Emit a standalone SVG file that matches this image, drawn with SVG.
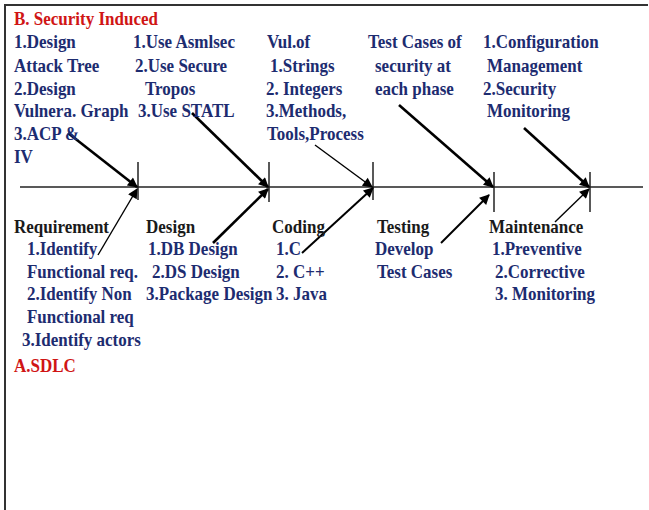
<svg xmlns="http://www.w3.org/2000/svg" width="649" height="510" viewBox="0 0 649 510">
  <style>
    text { font-family: "Liberation Serif", "Times New Roman", serif; font-weight: bold; font-size: 17px;
           transform-box: fill-box; transform-origin: 0 80%; transform: scaleY(1.14); }
    .blue { fill: #1d2c70; }
    .phase { fill: #1a1a1a; }
    .red { fill: #d01515; }
    .frame { stroke: #333; stroke-width: 2; fill: none; }
    .axis { stroke: #222; stroke-width: 1.5; fill: none; }
    .tick { stroke: #222; stroke-width: 1.5; }
    .thick { stroke: #000; stroke-width: 2.6; marker-end: url(#head); }
    .mid { stroke: #000; stroke-width: 2; marker-end: url(#head); }
    .thin { stroke: #000; stroke-width: 1.4; marker-end: url(#head); }
  </style>
  <defs>
    <marker id="head" viewBox="0 0 10 10" refX="9" refY="5" markerWidth="11" markerHeight="10" markerUnits="userSpaceOnUse" orient="auto">
      <path d="M0,0 L10,5 L0,10 Z" fill="#000"/>
    </marker>
  </defs>

  <rect x="0" y="0" width="649" height="510" fill="#fff"/>

  <!-- outer frame: top and left edges -->
  <path class="frame" d="M5,510 V5 H648"/>

  <!-- spine with phase ticks -->
  <g id="spine">
    <line class="axis" x1="20" y1="187" x2="643" y2="187"/>
    <line class="tick" x1="138" y1="162" x2="138" y2="200"/>
    <line class="tick" x1="269" y1="162" x2="269" y2="202"/>
    <line class="tick" x1="373" y1="162" x2="373" y2="200"/>
    <line class="tick" x1="494" y1="172" x2="494" y2="212"/>
    <line class="tick" x1="590" y1="172" x2="590" y2="212"/>
  </g>

  <!-- connectors -->
  <g id="connectors">
    <line class="thick" x1="68" y1="133" x2="137" y2="187"/>
    <line class="thick" x1="192" y1="113" x2="268" y2="187"/>
    <line class="thin" x1="315" y1="145" x2="372" y2="187"/>
    <line class="thick" x1="399" y1="105" x2="493" y2="187"/>
    <line class="thick" x1="524" y1="128" x2="589" y2="187"/>

    <line class="thin" x1="98" y1="255" x2="137" y2="189"/>
    <line class="thick" x1="213" y1="243" x2="268" y2="189"/>
    <line class="mid" x1="302" y1="253" x2="373" y2="188"/>
    <line class="mid" x1="441" y1="243" x2="489" y2="195"/>
    <line class="thin" x1="555" y1="222" x2="589" y2="189"/>
  </g>

  <text class="red" x="14" y="25">B. Security Induced</text>

  <g id="sec-requirement">
    <text class="blue" x="14" y="48">1.Design</text>
    <text class="blue" x="14" y="72">Attack Tree</text>
    <text class="blue" x="14" y="95">2.Design</text>
    <text class="blue" x="14" y="117">Vulnera. Graph</text>
    <text class="blue" x="14" y="140">3.ACP &amp;</text>
    <text class="blue" x="14" y="163">IV</text>
  </g>

  <g id="sec-design">
    <text class="blue" x="133" y="48">1.Use Asmlsec</text>
    <text class="blue" x="135" y="72">2.Use Secure</text>
    <text class="blue" x="145" y="95">Tropos</text>
    <text class="blue" x="138" y="117">3.Use STATL</text>
  </g>

  <g id="sec-coding">
    <text class="blue" x="267" y="48">Vul.of</text>
    <text class="blue" x="270" y="72">1.Strings</text>
    <text class="blue" x="266" y="95">2. Integers</text>
    <text class="blue" x="266" y="117">3.Methods,</text>
    <text class="blue" x="267" y="140">Tools,Process</text>
  </g>

  <g id="sec-testing">
    <text class="blue" x="368" y="48">Test Cases of</text>
    <text class="blue" x="375" y="72">security at</text>
    <text class="blue" x="375" y="95">each phase</text>
  </g>

  <g id="sec-maintenance">
    <text class="blue" x="483" y="48">1.Configuration</text>
    <text class="blue" x="487" y="72">Management</text>
    <text class="blue" x="483" y="95">2.Security</text>
    <text class="blue" x="487" y="117">Monitoring</text>
  </g>

  <g id="sdlc-requirement">
    <text class="phase" x="14" y="233">Requirement</text>
    <text class="blue" x="27" y="255">1.Identify</text>
    <text class="blue" x="27" y="278">Functional req.</text>
    <text class="blue" x="27" y="300">2.Identify Non</text>
    <text class="blue" x="27" y="323">Functional req</text>
    <text class="blue" x="22" y="346">3.Identify actors</text>
  </g>

  <g id="sdlc-design">
    <text class="phase" x="146" y="233">Design</text>
    <text class="blue" x="148" y="255">1.DB Design</text>
    <text class="blue" x="152" y="278">2.DS Design</text>
    <text class="blue" x="146" y="300">3.Package Design</text>
  </g>

  <g id="sdlc-coding">
    <text class="phase" x="272" y="233">Coding</text>
    <text class="blue" x="276" y="255">1.C</text>
    <text class="blue" x="276" y="278">2. C++</text>
    <text class="blue" x="276" y="300">3. Java</text>
  </g>

  <g id="sdlc-testing">
    <text class="phase" x="377" y="233">Testing</text>
    <text class="blue" x="375" y="255">Develop</text>
    <text class="blue" x="377" y="278">Test Cases</text>
  </g>

  <g id="sdlc-maintenance">
    <text class="phase" x="489" y="233">Maintenance</text>
    <text class="blue" x="492" y="255">1.Preventive</text>
    <text class="blue" x="495" y="278">2.Corrective</text>
    <text class="blue" x="495" y="300">3. Monitoring</text>
  </g>

  <text class="red" x="14" y="372">A.SDLC</text>
</svg>
